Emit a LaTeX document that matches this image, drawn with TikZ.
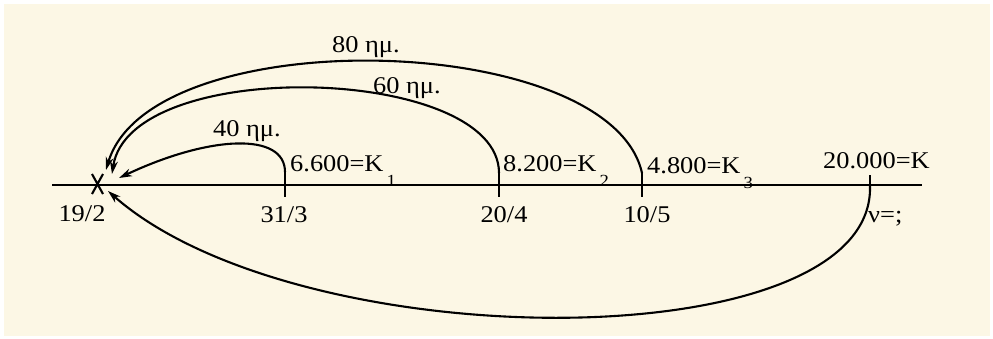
\documentclass[tikz,border=0pt]{standalone}
\usepackage{fontspec}
\setmainfont[FakeStretch=1.1]{Liberation Serif}
\usetikzlibrary{arrows.meta}
\definecolor{paper}{RGB}{252,247,229}
\newcommand{\lowsub}[1]{\hspace{3pt}\raisebox{-15pt}{\fontsize{17}{17}\selectfont #1}}

\begin{document}
\begin{tikzpicture}[x=1pt, y=-1pt, font=\fontsize{24}{26}\selectfont,
  lbl/.style={inner sep=0pt},
  arc/.style={line width=2.1pt, -{Stealth[length=13pt,width=8pt]}},
  tick/.style={line width=2.1pt}]
\fill[white] (0,0) rectangle (993,338);
\fill[paper] (4,4) rectangle (990,336);
\useasboundingbox (0,0) rectangle (993,338);

% time axis
\coordinate (ax0) at (52,185);
\coordinate (ax1) at (922,185);
\draw[line width=2.4pt] (ax0) -- (ax1);

% dates
\coordinate (d1) at (285,172);
\coordinate (d2) at (499,173);
\coordinate (d3) at (642,173);
\coordinate (dk) at (870,186);
\foreach \x/\t in {285/172, 499/173, 642/173}
  \draw[tick] (\x,\t) -- (\x,197);
\draw[tick] (870,175) -- (dk);
\draw[tick] (92,174) -- (103,194) (103,174) -- (92,194);

% arrow tips at 19/2
\coordinate (tip80) at (106,170);
\coordinate (tip60) at (112,174);
\coordinate (tip40) at (119,178);
\coordinate (tipk) at (108,191);

\draw[arc] (d3) .. controls (610,30) and (150,20) .. (tip80);
\draw[arc] (d2) .. controls (499,65) and (130,55) .. (tip60);
\draw[arc] (d1) .. controls (285,132) and (210,135) .. (tip40);
\draw[arc] (dk) .. controls (875,360) and (300,360) .. (tipk);

% labels
\node[lbl, anchor=base west] (w80) at (332,52) {80 ημ.};
\node[lbl, anchor=base west] (w60) at (373,93) {60 ημ.};
\node[lbl, anchor=base west] (w40) at (213,136) {40 ημ.};
\node[lbl, anchor=base west] (k1) at (290,171) {6.600=K\lowsub{1}};
\node[lbl, anchor=base west] (k2) at (503,171) {8.200=K\lowsub{2}};
\node[lbl, anchor=base west] (k3) at (647,173) {4.800=K\lowsub{3}};
\node[lbl, anchor=base west] (kk) at (823,168) {20.000=K};
\node[lbl, anchor=base] (t0) at (82,221) {19/2};
\node[lbl, anchor=base] (t1) at (284,222) {31/3};
\node[lbl, anchor=base] (t2) at (504,222) {20/4};
\node[lbl, anchor=base] (t3) at (647,222) {10/5};
\node[lbl, anchor=base west] (nu) at (868,222) {ν=;};
\end{tikzpicture}
\end{document}
